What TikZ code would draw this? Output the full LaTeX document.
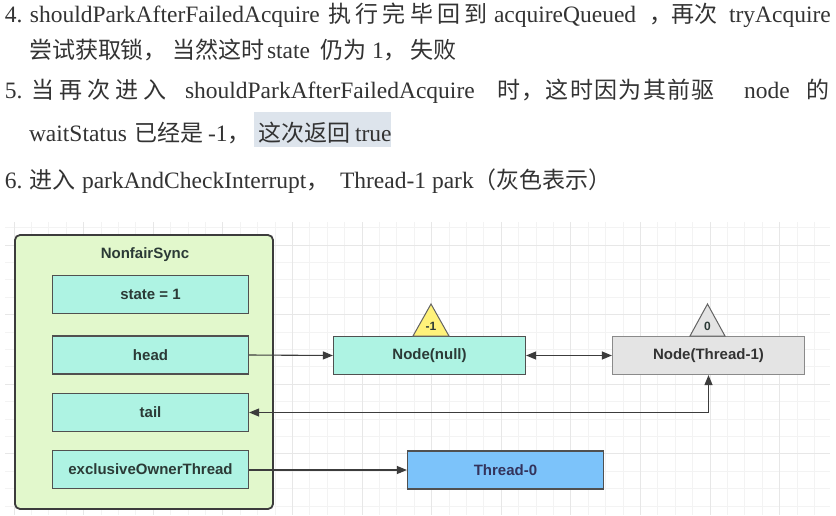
\documentclass[tikz,border=0pt]{standalone}
\usepackage{fontspec}
\setmainfont{Liberation Serif}
\newfontfamily\cjkf{Noto Sans CJK SC}
\newfontfamily\diagf{Liberation Sans}
\usetikzlibrary{arrows.meta}
\definecolor{textc}{HTML}{333333}
\definecolor{hilite}{HTML}{DDE4EC}
\definecolor{gridminor}{HTML}{F3F3F3}
\definecolor{gridmajor}{HTML}{E7E7E7}
\definecolor{outerfill}{HTML}{E2F8CC}
\definecolor{aqua}{HTML}{AEF3E3}
\definecolor{greyfill}{HTML}{E4E4E4}
\definecolor{bluefill}{HTML}{7CC3FA}
\definecolor{yellowfill}{HTML}{FFF27A}
\definecolor{boxtext}{HTML}{2B3A36}
\definecolor{linec}{HTML}{3C3C3C}
\newcommand\C[1]{{\cjkf\fontsize{23}{27}\selectfont #1}}
\newcommand\Cspread[2]{\hbox to #1{\cjkf\fontsize{23}{27}\selectfont #2}}
\tikzset{
  txt/.style={anchor=base west, inner sep=0pt, outer sep=0pt, text=textc, font=\fontsize{23.5}{27}\selectfont},
  field/.style={draw=linec!90, line width=1.2pt, fill=aqua, minimum width=196pt, minimum height=38pt, inner sep=0pt, text=boxtext, font=\diagf\bfseries\fontsize{15}{18}\selectfont},
  qnode/.style={field, minimum width=192pt},
  conn/.style={draw=linec, line width=1.1pt},
  tip/.style={-{Triangle[length=10pt,width=8pt]}},
  tipboth/.style={{Triangle[length=10pt,width=8pt]}-{Triangle[length=10pt,width=8pt]}},
  tri/.style={draw=linec!80, line width=1pt, line join=miter},
  trilabel/.style={inner sep=0pt, text=boxtext, font=\diagf\bfseries\fontsize{12}{14}\selectfont}
}
\begin{document}
\begin{tikzpicture}[x=1pt,y=-1pt]
\useasboundingbox (0,0) rectangle (836,515);
\fill[white] (0,0) rectangle (836,515);
% grid
\begin{scope}
\clip (5,222) rectangle (830,515);
\foreach \i in {0,...,48} {\draw[gridminor, line width=0.8pt] ({-3.4+17.4*\i},222) -- ({-3.4+17.4*\i},515);}
\foreach \j in {0,...,17} {\draw[gridminor, line width=0.8pt] (5,{227.6+17.4*\j}) -- (830,{227.6+17.4*\j});}
\foreach \i in {0,...,12} {\draw[gridmajor, line width=0.9pt] ({14+69.6*\i},222) -- ({14+69.6*\i},515);}
\foreach \j in {0,...,4} {\draw[gridmajor, line width=0.9pt] (5,{245+69.6*\j}) -- (830,{245+69.6*\j});}
\end{scope}
% highlight
\fill[hilite] (254,112) rectangle (391,147);
% line 1
\node[txt] (l1a) at (5,22) {4.};
\node[txt] (l1b) at (30,22) {shouldParkAfterFailedAcquire};
\node[txt] (l1c) at (328,22) {\Cspread{160pt}{执\hfil 行\hfil 完\hfil 毕\hfil 回\hfil 到}};
\node[txt] (l1d) at (494,22) {acquireQueued};
\node[txt] (l1e) at (649,22) {\C{，}};
\node[txt] (l1f) at (671,22) {\C{再次}};
\node[txt] (l1g) at (729,22) {tryAcquire};
% line 2
\node[txt] (l2a) at (29,58) {\C{尝试获取锁，}};
\node[txt] (l2b) at (172,58) {\C{当然这时}};
\node[txt] (l2c) at (267,58) {state};
\node[txt] (l2d) at (320,58) {\C{仍为}};
\node[txt] (l2e) at (372,58) {1\C{，}};
\node[txt] (l2f) at (410,58) {\C{失败}};
% line 3
\node[txt] (l3a) at (5,98) {5.};
\node[txt] (l3b) at (31,98) {\Cspread{136pt}{当\hfil 再\hfil 次\hfil 进\hfil 入}};
\node[txt] (l3c) at (185,98) {shouldParkAfterFailedAcquire};
\node[txt] (l3d) at (497,98) {\Cspread{218pt}{时\hfil ，\hfil 这\hfil 时\hfil 因\hfil 为\hfil 其\hfil 前\hfil 驱}};
\node[txt] (l3e) at (744,98) {node};
\node[txt] (l3f) at (806,98) {\C{的}};
% line 4
\node[txt] (l4a) at (29,141) {waitStatus};
\node[txt] (l4b) at (134,141) {\C{已经是}};
\node[txt] (l4c) at (208,141) {-1\C{，}};
\node[txt] (l4d) at (258,141) {\C{这次返回}};
\node[txt] (l4e) at (355,141) {true};
% line 5
\node[txt] (l5a) at (5,188) {6.};
\node[txt] (l5b) at (30,188) {\C{进入}};
\node[txt] (l5c) at (82,188) {parkAndCheckInterrupt\C{，}};
\node[txt] (l5d) at (340,188) {Thread-1 park};
\node[txt] (l5e) at (473,188) {\C{（灰色表示）}};
% NonfairSync container
\node[draw=linec, line width=1.8pt, fill=outerfill, rounded corners=5pt, minimum width=258pt, minimum height=274pt, inner sep=0pt] (sync) at (144,372) {};
\node[inner sep=0pt, text=boxtext, font=\diagf\bfseries\fontsize{15}{18}\selectfont] (synctitle) at (145,255) {NonfairSync};
\node[field] (state) at (150.5,294.5) {state = 1};
\node[field] (head) at (150.5,355) {head};
\node[field] (tail) at (150.5,412.5) {tail};
\node[field] (eot) at (150.5,469.5) {exclusiveOwnerThread};
% queue nodes
\node[qnode] (nnull) at (429.5,355.5) {Node(null)};
\node[qnode, fill=greyfill, draw=linec!60, text=textc] (nt1) at (708.5,355.5) {Node(Thread-1)};
\node[field, fill=bluefill, text=blue!20!black!80] (t0) at (505.5,470) {Thread-0};
% waitStatus triangles
\draw[tri, fill=yellowfill] (413,336) -- (431,304) -- (449,336) -- cycle;
\node[trilabel] (ws1) at (431,326) {-1};
\draw[tri, fill=greyfill] (690,336) -- (707.5,304) -- (725,336) -- cycle;
\node[trilabel] (ws0) at (707.5,326) {0};
% connectors
\draw[conn, tip] (head.east) -- (nnull.west);
\draw[conn, tipboth] (nnull.east) -- (nt1.west);
\draw[conn, tipboth] (tail.east) -| (nt1.south);
\draw[conn, tip] (eot.east |- t0.west) -- (t0.west);
\end{tikzpicture}
\end{document}
